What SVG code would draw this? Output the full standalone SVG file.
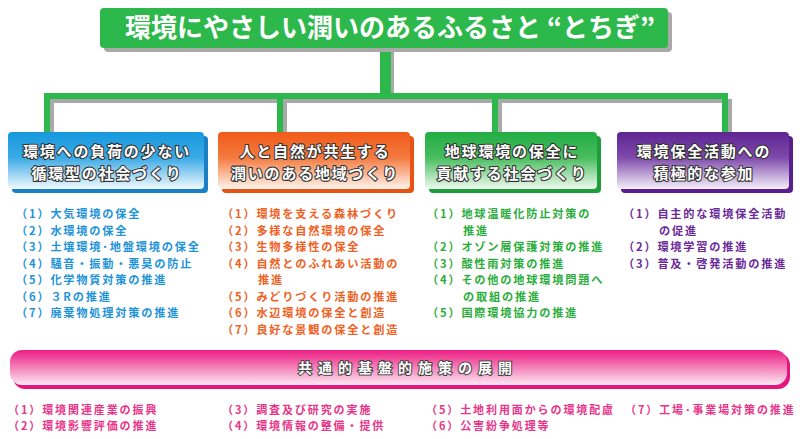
<svg xmlns="http://www.w3.org/2000/svg" width="800" height="439" viewBox="0 0 800 439">
<style>
text{font-family:"Noto Sans CJK JP","Noto Sans CJK SC",sans-serif;}
.title{font-size:26px;font-weight:bold;fill:#fff;}
.bt{font-size:15px;letter-spacing:1.8px;font-weight:bold;fill:#fff;stroke:#333;stroke-width:2.2px;paint-order:stroke;stroke-linejoin:round;text-anchor:middle;}
.li{font-size:11.2px;letter-spacing:1.8px;font-weight:bold;}
.lb{font-size:11px;letter-spacing:1.9px;font-weight:bold;fill:#e8358a;}
.blue{fill:#1d93d8;}
.orange{fill:#f0601e;}
.green{fill:#2bad3c;}
.purple{fill:#6b2a98;}
.cg{fill:#2db84b;}
.cs{fill:#a9a9a9;}
</style>
<defs>
<linearGradient id="gBlue" x1="0" y1="0" x2="0" y2="1"><stop offset="0" stop-color="#1698dd"/><stop offset="0.45" stop-color="#3aaae6"/><stop offset="1" stop-color="#f2fafe"/></linearGradient>
<linearGradient id="gOrange" x1="0" y1="0" x2="0" y2="1"><stop offset="0" stop-color="#f05a18"/><stop offset="0.45" stop-color="#f47a40"/><stop offset="1" stop-color="#fff4ec"/></linearGradient>
<linearGradient id="gGreen" x1="0" y1="0" x2="0" y2="1"><stop offset="0" stop-color="#22ad44"/><stop offset="0.45" stop-color="#48bd5e"/><stop offset="1" stop-color="#effaef"/></linearGradient>
<linearGradient id="gPurple" x1="0" y1="0" x2="0" y2="1"><stop offset="0" stop-color="#5e2592"/><stop offset="0.45" stop-color="#7e4aab"/><stop offset="1" stop-color="#f6f0fa"/></linearGradient>
<linearGradient id="gPink" x1="0" y1="0" x2="0" y2="1"><stop offset="0" stop-color="#ec1e85"/><stop offset="0.35" stop-color="#f262a8"/><stop offset="1" stop-color="#fde9f3"/></linearGradient>
</defs>

<g id="connectors">
<rect class="cs" x="390" y="52" width="4" height="46"/>
<rect class="cs" x="48" y="99" width="684" height="4"/>
<rect class="cs" x="50" y="103" width="4" height="29"/>
<rect class="cs" x="283" y="103" width="4" height="29"/>
<rect class="cs" x="498" y="103" width="4" height="29"/>
<rect class="cs" x="728" y="103" width="4" height="29"/>
<rect class="cg" x="380" y="46" width="11" height="53"/>
<rect class="cg" x="44" y="93" width="684" height="6"/>
<rect class="cg" x="44" y="93" width="6" height="39"/>
<rect class="cg" x="277" y="93" width="6" height="39"/>
<rect class="cg" x="492" y="93" width="6" height="39"/>
<rect class="cg" x="722" y="93" width="6" height="39"/>
</g>

<g id="title">
<rect x="104" y="12" width="568" height="40" rx="4" fill="#a9a9a9"/>
<rect x="100" y="8" width="568" height="40" rx="4" fill="#2db84b"/>
<text class="title" x="390" y="37" text-anchor="middle">環境にやさしい潤いのあるふるさと “とちぎ”</text>
</g>

<g id="box1">
<rect x="12" y="136" width="196" height="57" rx="4" fill="#1a80c6"/>
<rect x="8" y="132" width="196" height="57" rx="4" fill="url(#gBlue)"/>
<text class="bt" x="107" y="157">環境への負荷の少ない</text>
<text class="bt" x="107" y="179">循環型の社会づくり</text>
</g>
<g id="box2">
<rect x="222" y="136" width="192" height="57" rx="4" fill="#e85212"/>
<rect x="218" y="132" width="192" height="57" rx="4" fill="url(#gOrange)"/>
<text class="bt" x="315" y="157">人と自然が共生する</text>
<text class="bt" x="315" y="179">潤いのある地域づくり</text>
</g>
<g id="box3">
<rect x="429" y="136" width="172" height="57" rx="4" fill="#1e9e3a"/>
<rect x="425" y="132" width="172" height="57" rx="4" fill="url(#gGreen)"/>
<text class="bt" x="512" y="157">地球環境の保全に</text>
<text class="bt" x="512" y="179">貢献する社会づくり</text>
</g>
<g id="box4">
<rect x="621" y="136" width="172" height="57" rx="4" fill="#5a1f8c"/>
<rect x="617" y="132" width="172" height="57" rx="4" fill="url(#gPurple)"/>
<text class="bt" x="704" y="157">環境保全活動への</text>
<text class="bt" x="704" y="179">積極的な参加</text>
</g>

<g id="list1">
<text class="li blue"><tspan x="16" y="218">（1）大気環境の保全</tspan><tspan x="16" y="234.5">（2）水環境の保全</tspan><tspan x="16" y="251">（3）土壌環境･地盤環境の保全</tspan><tspan x="16" y="267.5">（4）騒音・振動・悪臭の防止</tspan><tspan x="16" y="284">（5）化学物質対策の推進</tspan><tspan x="16" y="300.5">（6）３Rの推進</tspan><tspan x="16" y="317">（7）廃棄物処理対策の推進</tspan></text>
</g>
<g id="list2">
<text class="li orange"><tspan x="222" y="218">（1）環境を支える森林づくり</tspan><tspan x="222" y="234.5">（2）多様な自然環境の保全</tspan><tspan x="222" y="251">（3）生物多様性の保全</tspan><tspan x="222" y="267.5">（4）自然とのふれあい活動の</tspan><tspan x="258" y="284">推進</tspan><tspan x="222" y="300.5">（5）みどりづくり活動の推進</tspan><tspan x="222" y="317">（6）水辺環境の保全と創造</tspan><tspan x="222" y="333.5">（7）良好な景観の保全と創造</tspan></text>
</g>
<g id="list3">
<text class="li green"><tspan x="427" y="218">（1）地球温暖化防止対策の</tspan><tspan x="463" y="234.5">推進</tspan><tspan x="427" y="251">（2）オゾン層保護対策の推進</tspan><tspan x="427" y="267.5">（3）酸性雨対策の推進</tspan><tspan x="427" y="284">（4）その他の地球環境問題へ</tspan><tspan x="463" y="300.5">の取組の推進</tspan><tspan x="427" y="317">（5）国際環境協力の推進</tspan></text>
</g>
<g id="list4">
<text class="li purple"><tspan x="623" y="218">（1）自主的な環境保全活動</tspan><tspan x="659" y="234.5">の促進</tspan><tspan x="623" y="251">（2）環境学習の推進</tspan><tspan x="623" y="267.5">（3）普及・啓発活動の推進</tspan></text>
</g>

<g id="band">
<rect x="13" y="353" width="777" height="36" rx="12" fill="#e5157f"/>
<rect x="10" y="350" width="777" height="35" rx="12" fill="url(#gPink)"/>
<text x="408" y="373" text-anchor="middle" style="font-size:14px;font-weight:bold;fill:#fff;stroke:#444;stroke-width:2px;paint-order:stroke;letter-spacing:6px;">共通的基盤的施策の展開</text>
</g>

<g id="list5">
<text class="lb"><tspan x="8" y="414">（1）環境関連産業の振興</tspan><tspan x="8" y="430">（2）環境影響評価の推進</tspan></text>
<text class="lb"><tspan x="222" y="414">（3）調査及び研究の実施</tspan><tspan x="222" y="430">（4）環境情報の整備・提供</tspan></text>
<text class="lb"><tspan x="426" y="414">（5）土地利用面からの環境配慮</tspan><tspan x="426" y="430">（6）公害紛争処理等</tspan></text>
<text class="lb" x="625" y="414">（7）工場･事業場対策の推進</text>
</g>
</svg>
